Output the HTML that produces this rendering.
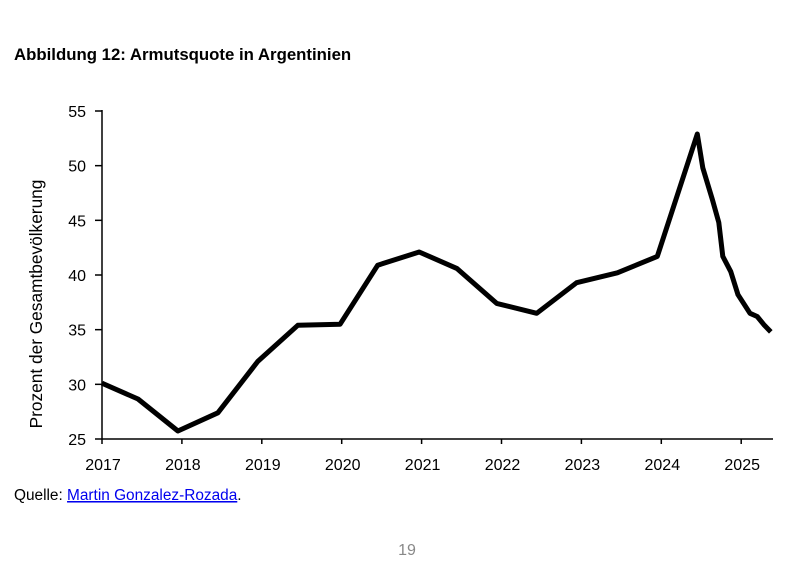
<!DOCTYPE html>
<html><head><meta charset="utf-8"><style>
body{margin:0;background:#fff;width:809px;height:562px;overflow:hidden;font-family:"Liberation Sans",sans-serif}
</style></head><body>
<svg width="809" height="562" font-family="Liberation Sans, sans-serif">
<text x="14" y="60" font-size="16.8" font-weight="bold">Abbildung 12: Armutsquote in Argentinien</text>
<text transform="translate(42,304) rotate(-90)" text-anchor="middle" font-size="17.3">Prozent der Gesamtbevölkerung</text>
<g id="axes"></g>
<path id="line" fill="none" stroke="#000" stroke-width="5" stroke-linejoin="round"/>
<text x="14" y="500" font-size="15.4">Quelle: <tspan fill="#0000ee" text-decoration="underline">Martin Gonzalez-Rozada</tspan>.</text>
<text x="407" y="555" font-size="16" fill="#888" text-anchor="middle">19</text>
</svg>
<script>
const years=[2017.0,2017.45,2017.95,2018.45,2018.95,2019.45,2019.98,2020.45,2020.97,2021.44,2021.94,2022.44,2022.94,2023.45,2023.95,2024.45,2024.52,2024.64,2024.72,2024.77,2024.87,2024.96,2025.11,2025.20,2025.29,2025.37];
const values=[30.1,28.66,25.73,27.4,32.1,35.4,35.5,40.9,42.1,40.6,37.4,36.5,39.3,40.2,41.7,52.9,49.8,46.9,44.8,41.7,40.3,38.2,36.5,36.2,35.4,34.8];
const yTicks=[25,30,35,40,45,50,55];
const xTicks=[2017,2018,2019,2020,2021,2022,2023,2024,2025];
const X=v=>102+(v-2017)*79.9, Y=v=>439-(v-25)*328/30;
const ns="http://www.w3.org/2000/svg",g=document.getElementById('axes');
function mk(t,a,p){const e=document.createElementNS(ns,t);for(const k in a)e.setAttribute(k,a[k]);(p||g).appendChild(e);return e;}
const ya=mk('line',{x1:102,y1:110,x2:102,y2:439,stroke:'#000','stroke-width':1.5});


const xa=mk('line',{x1:102,y1:439,x2:773,y2:439,stroke:'#000','stroke-width':1.5});


yTicks.forEach(v=>{mk('line',{x1:95,x2:102,y1:Y(v),y2:Y(v),stroke:'#000','stroke-width':1.5});
const t=mk('text',{x:86,y:Y(v)+6,'text-anchor':'end','font-size':16});t.textContent=v;

});
xTicks.forEach(v=>{mk('line',{x1:X(v),x2:X(v),y1:439,y2:444,stroke:'#000','stroke-width':1.5});
const t=mk('text',{x:X(v)+1,y:470,'text-anchor':'middle','font-size':16});t.textContent=v;

});
document.getElementById('line').setAttribute('d',years.map((y,i)=>(i?'L':'M')+X(y).toFixed(1)+','+Y(values[i]).toFixed(1)).join(''));
</script>
</body></html>
